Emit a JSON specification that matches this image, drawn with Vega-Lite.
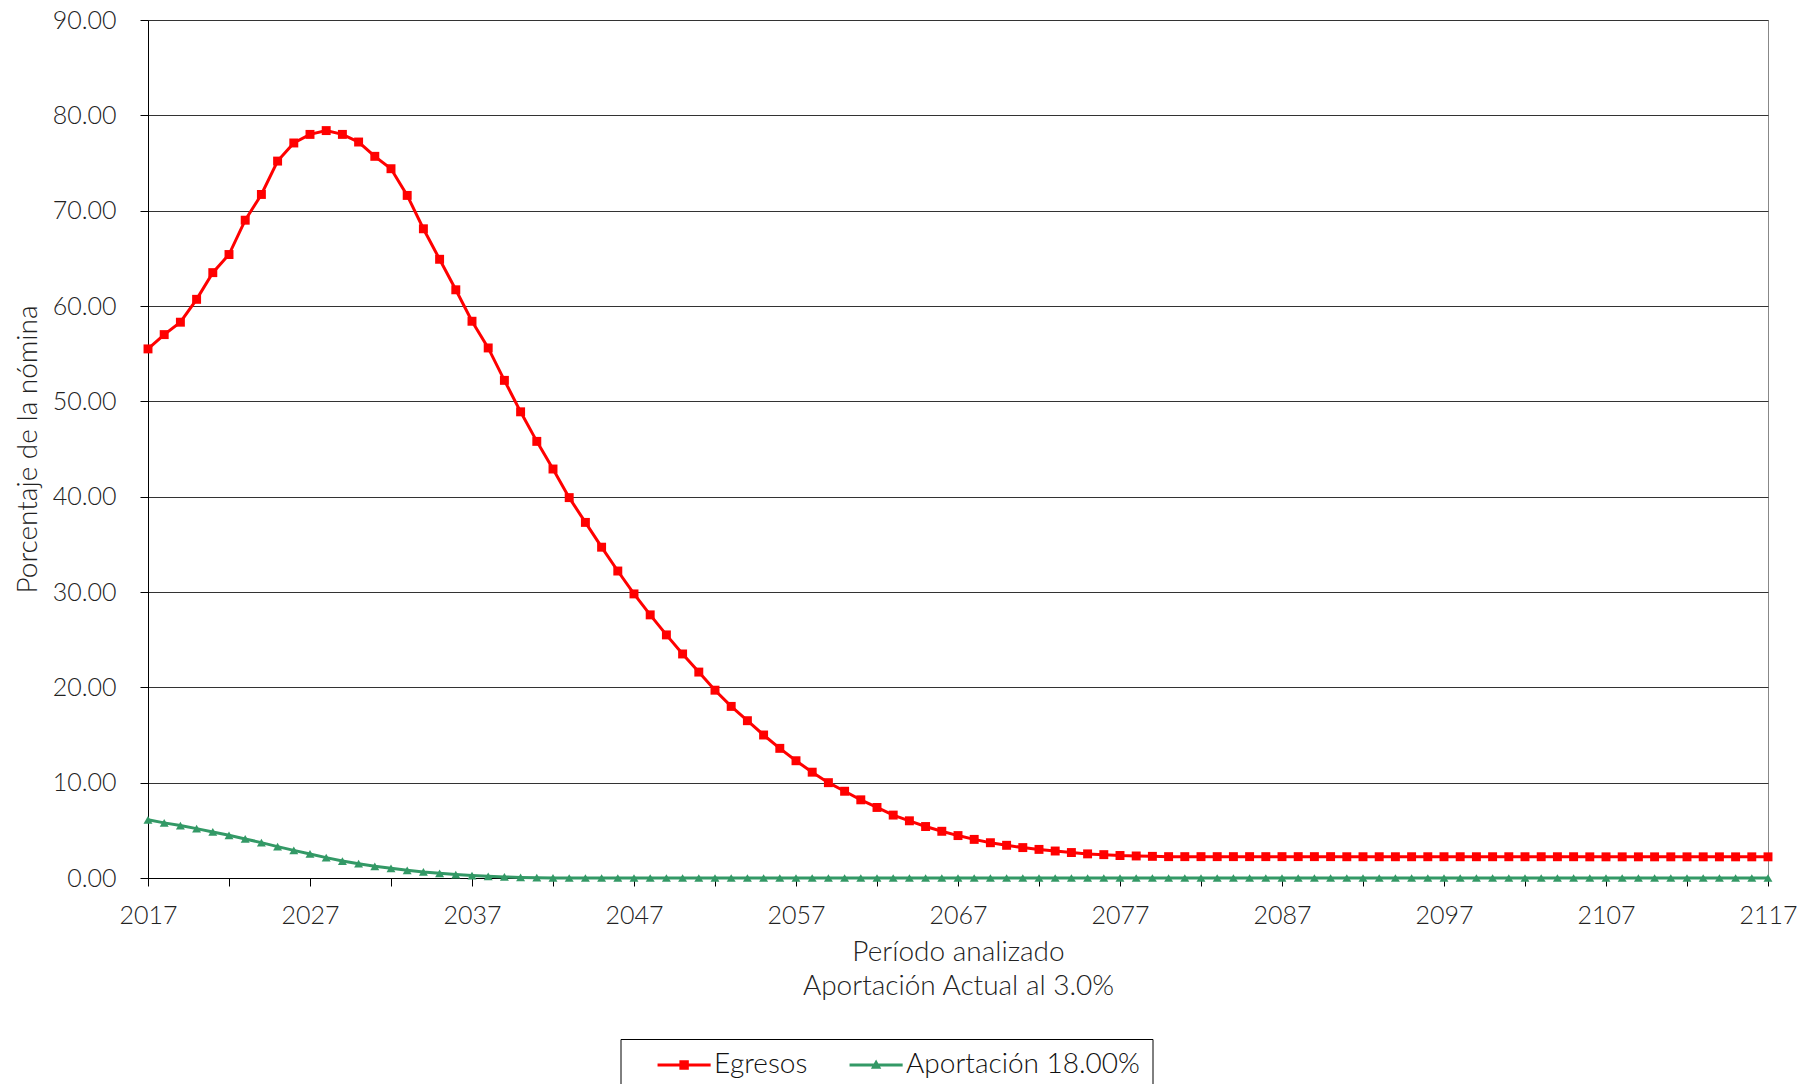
{
  "$schema": "https://vega.github.io/schema/vega-lite/v6.json",
  "width": 1620,
  "height": 858,
  "autosize": {"type": "none"},
  "padding": {"left": 148, "top": 20, "right": 52, "bottom": 206},
  "background": "white",
  "config": {
    "font": "Lato",
    "view": {"stroke": "#888888", "strokeWidth": 1},
    "axis": {
      "labelFont": "Lato", "labelFontWeight": 300, "labelFontSize": 25, "labelColor": "#222222",
      "titleFont": "Lato", "titleFontWeight": 300, "titleFontSize": 28, "titleColor": "#222222",
      "domainColor": "#000000", "tickColor": "#000000", "tickSize": 8
    }
  },
  "data": {"values": [
    {"year":2017,"series":"Egresos","value":55.5},
    {"year":2018,"series":"Egresos","value":57.0},
    {"year":2019,"series":"Egresos","value":58.3},
    {"year":2020,"series":"Egresos","value":60.7},
    {"year":2021,"series":"Egresos","value":63.5},
    {"year":2022,"series":"Egresos","value":65.4},
    {"year":2023,"series":"Egresos","value":69.0},
    {"year":2024,"series":"Egresos","value":71.7},
    {"year":2025,"series":"Egresos","value":75.2},
    {"year":2026,"series":"Egresos","value":77.1},
    {"year":2027,"series":"Egresos","value":78.0},
    {"year":2028,"series":"Egresos","value":78.4},
    {"year":2029,"series":"Egresos","value":78.0},
    {"year":2030,"series":"Egresos","value":77.2},
    {"year":2031,"series":"Egresos","value":75.7},
    {"year":2032,"series":"Egresos","value":74.4},
    {"year":2033,"series":"Egresos","value":71.6},
    {"year":2034,"series":"Egresos","value":68.1},
    {"year":2035,"series":"Egresos","value":64.9},
    {"year":2036,"series":"Egresos","value":61.7},
    {"year":2037,"series":"Egresos","value":58.4},
    {"year":2038,"series":"Egresos","value":55.6},
    {"year":2039,"series":"Egresos","value":52.2},
    {"year":2040,"series":"Egresos","value":48.9},
    {"year":2041,"series":"Egresos","value":45.8},
    {"year":2042,"series":"Egresos","value":42.9},
    {"year":2043,"series":"Egresos","value":39.9},
    {"year":2044,"series":"Egresos","value":37.3},
    {"year":2045,"series":"Egresos","value":34.7},
    {"year":2046,"series":"Egresos","value":32.2},
    {"year":2047,"series":"Egresos","value":29.8},
    {"year":2048,"series":"Egresos","value":27.6},
    {"year":2049,"series":"Egresos","value":25.5},
    {"year":2050,"series":"Egresos","value":23.5},
    {"year":2051,"series":"Egresos","value":21.6},
    {"year":2052,"series":"Egresos","value":19.7},
    {"year":2053,"series":"Egresos","value":18.0},
    {"year":2054,"series":"Egresos","value":16.5},
    {"year":2055,"series":"Egresos","value":15.0},
    {"year":2056,"series":"Egresos","value":13.6},
    {"year":2057,"series":"Egresos","value":12.3},
    {"year":2058,"series":"Egresos","value":11.1},
    {"year":2059,"series":"Egresos","value":10.0},
    {"year":2060,"series":"Egresos","value":9.1},
    {"year":2061,"series":"Egresos","value":8.2},
    {"year":2062,"series":"Egresos","value":7.4},
    {"year":2063,"series":"Egresos","value":6.6},
    {"year":2064,"series":"Egresos","value":6.0},
    {"year":2065,"series":"Egresos","value":5.4},
    {"year":2066,"series":"Egresos","value":4.9},
    {"year":2067,"series":"Egresos","value":4.45},
    {"year":2068,"series":"Egresos","value":4.05},
    {"year":2069,"series":"Egresos","value":3.7},
    {"year":2070,"series":"Egresos","value":3.43},
    {"year":2071,"series":"Egresos","value":3.19},
    {"year":2072,"series":"Egresos","value":3.0},
    {"year":2073,"series":"Egresos","value":2.83},
    {"year":2074,"series":"Egresos","value":2.67},
    {"year":2075,"series":"Egresos","value":2.53},
    {"year":2076,"series":"Egresos","value":2.45},
    {"year":2077,"series":"Egresos","value":2.36},
    {"year":2078,"series":"Egresos","value":2.31},
    {"year":2079,"series":"Egresos","value":2.27},
    {"year":2080,"series":"Egresos","value":2.24},
    {"year":2081,"series":"Egresos","value":2.24},
    {"year":2082,"series":"Egresos","value":2.24},
    {"year":2083,"series":"Egresos","value":2.24},
    {"year":2084,"series":"Egresos","value":2.24},
    {"year":2085,"series":"Egresos","value":2.24},
    {"year":2086,"series":"Egresos","value":2.24},
    {"year":2087,"series":"Egresos","value":2.24},
    {"year":2088,"series":"Egresos","value":2.24},
    {"year":2089,"series":"Egresos","value":2.24},
    {"year":2090,"series":"Egresos","value":2.24},
    {"year":2091,"series":"Egresos","value":2.23},
    {"year":2092,"series":"Egresos","value":2.23},
    {"year":2093,"series":"Egresos","value":2.23},
    {"year":2094,"series":"Egresos","value":2.23},
    {"year":2095,"series":"Egresos","value":2.23},
    {"year":2096,"series":"Egresos","value":2.23},
    {"year":2097,"series":"Egresos","value":2.23},
    {"year":2098,"series":"Egresos","value":2.23},
    {"year":2099,"series":"Egresos","value":2.23},
    {"year":2100,"series":"Egresos","value":2.23},
    {"year":2101,"series":"Egresos","value":2.23},
    {"year":2102,"series":"Egresos","value":2.23},
    {"year":2103,"series":"Egresos","value":2.23},
    {"year":2104,"series":"Egresos","value":2.23},
    {"year":2105,"series":"Egresos","value":2.23},
    {"year":2106,"series":"Egresos","value":2.22},
    {"year":2107,"series":"Egresos","value":2.22},
    {"year":2108,"series":"Egresos","value":2.22},
    {"year":2109,"series":"Egresos","value":2.22},
    {"year":2110,"series":"Egresos","value":2.22},
    {"year":2111,"series":"Egresos","value":2.22},
    {"year":2112,"series":"Egresos","value":2.22},
    {"year":2113,"series":"Egresos","value":2.22},
    {"year":2114,"series":"Egresos","value":2.22},
    {"year":2115,"series":"Egresos","value":2.22},
    {"year":2116,"series":"Egresos","value":2.22},
    {"year":2117,"series":"Egresos","value":2.22},
    {"year":2017,"series":"Aportación 18.00%","value":6.1},
    {"year":2018,"series":"Aportación 18.00%","value":5.78},
    {"year":2019,"series":"Aportación 18.00%","value":5.5},
    {"year":2020,"series":"Aportación 18.00%","value":5.18},
    {"year":2021,"series":"Aportación 18.00%","value":4.83},
    {"year":2022,"series":"Aportación 18.00%","value":4.48},
    {"year":2023,"series":"Aportación 18.00%","value":4.1},
    {"year":2024,"series":"Aportación 18.00%","value":3.71},
    {"year":2025,"series":"Aportación 18.00%","value":3.29},
    {"year":2026,"series":"Aportación 18.00%","value":2.9},
    {"year":2027,"series":"Aportación 18.00%","value":2.52},
    {"year":2028,"series":"Aportación 18.00%","value":2.14},
    {"year":2029,"series":"Aportación 18.00%","value":1.78},
    {"year":2030,"series":"Aportación 18.00%","value":1.5},
    {"year":2031,"series":"Aportación 18.00%","value":1.23},
    {"year":2032,"series":"Aportación 18.00%","value":1.02},
    {"year":2033,"series":"Aportación 18.00%","value":0.81},
    {"year":2034,"series":"Aportación 18.00%","value":0.63},
    {"year":2035,"series":"Aportación 18.00%","value":0.49},
    {"year":2036,"series":"Aportación 18.00%","value":0.36},
    {"year":2037,"series":"Aportación 18.00%","value":0.26},
    {"year":2038,"series":"Aportación 18.00%","value":0.18},
    {"year":2039,"series":"Aportación 18.00%","value":0.11},
    {"year":2040,"series":"Aportación 18.00%","value":0.06},
    {"year":2041,"series":"Aportación 18.00%","value":0.03},
    {"year":2042,"series":"Aportación 18.00%","value":0.01},
    {"year":2043,"series":"Aportación 18.00%","value":0},
    {"year":2044,"series":"Aportación 18.00%","value":0},
    {"year":2045,"series":"Aportación 18.00%","value":0},
    {"year":2046,"series":"Aportación 18.00%","value":0},
    {"year":2047,"series":"Aportación 18.00%","value":0},
    {"year":2048,"series":"Aportación 18.00%","value":0},
    {"year":2049,"series":"Aportación 18.00%","value":0},
    {"year":2050,"series":"Aportación 18.00%","value":0},
    {"year":2051,"series":"Aportación 18.00%","value":0},
    {"year":2052,"series":"Aportación 18.00%","value":0},
    {"year":2053,"series":"Aportación 18.00%","value":0},
    {"year":2054,"series":"Aportación 18.00%","value":0},
    {"year":2055,"series":"Aportación 18.00%","value":0},
    {"year":2056,"series":"Aportación 18.00%","value":0},
    {"year":2057,"series":"Aportación 18.00%","value":0},
    {"year":2058,"series":"Aportación 18.00%","value":0},
    {"year":2059,"series":"Aportación 18.00%","value":0},
    {"year":2060,"series":"Aportación 18.00%","value":0},
    {"year":2061,"series":"Aportación 18.00%","value":0},
    {"year":2062,"series":"Aportación 18.00%","value":0},
    {"year":2063,"series":"Aportación 18.00%","value":0},
    {"year":2064,"series":"Aportación 18.00%","value":0},
    {"year":2065,"series":"Aportación 18.00%","value":0},
    {"year":2066,"series":"Aportación 18.00%","value":0},
    {"year":2067,"series":"Aportación 18.00%","value":0},
    {"year":2068,"series":"Aportación 18.00%","value":0},
    {"year":2069,"series":"Aportación 18.00%","value":0},
    {"year":2070,"series":"Aportación 18.00%","value":0},
    {"year":2071,"series":"Aportación 18.00%","value":0},
    {"year":2072,"series":"Aportación 18.00%","value":0},
    {"year":2073,"series":"Aportación 18.00%","value":0},
    {"year":2074,"series":"Aportación 18.00%","value":0},
    {"year":2075,"series":"Aportación 18.00%","value":0},
    {"year":2076,"series":"Aportación 18.00%","value":0},
    {"year":2077,"series":"Aportación 18.00%","value":0},
    {"year":2078,"series":"Aportación 18.00%","value":0},
    {"year":2079,"series":"Aportación 18.00%","value":0},
    {"year":2080,"series":"Aportación 18.00%","value":0},
    {"year":2081,"series":"Aportación 18.00%","value":0},
    {"year":2082,"series":"Aportación 18.00%","value":0},
    {"year":2083,"series":"Aportación 18.00%","value":0},
    {"year":2084,"series":"Aportación 18.00%","value":0},
    {"year":2085,"series":"Aportación 18.00%","value":0},
    {"year":2086,"series":"Aportación 18.00%","value":0},
    {"year":2087,"series":"Aportación 18.00%","value":0},
    {"year":2088,"series":"Aportación 18.00%","value":0},
    {"year":2089,"series":"Aportación 18.00%","value":0},
    {"year":2090,"series":"Aportación 18.00%","value":0},
    {"year":2091,"series":"Aportación 18.00%","value":0},
    {"year":2092,"series":"Aportación 18.00%","value":0},
    {"year":2093,"series":"Aportación 18.00%","value":0},
    {"year":2094,"series":"Aportación 18.00%","value":0},
    {"year":2095,"series":"Aportación 18.00%","value":0},
    {"year":2096,"series":"Aportación 18.00%","value":0},
    {"year":2097,"series":"Aportación 18.00%","value":0},
    {"year":2098,"series":"Aportación 18.00%","value":0},
    {"year":2099,"series":"Aportación 18.00%","value":0},
    {"year":2100,"series":"Aportación 18.00%","value":0},
    {"year":2101,"series":"Aportación 18.00%","value":0},
    {"year":2102,"series":"Aportación 18.00%","value":0},
    {"year":2103,"series":"Aportación 18.00%","value":0},
    {"year":2104,"series":"Aportación 18.00%","value":0},
    {"year":2105,"series":"Aportación 18.00%","value":0},
    {"year":2106,"series":"Aportación 18.00%","value":0},
    {"year":2107,"series":"Aportación 18.00%","value":0},
    {"year":2108,"series":"Aportación 18.00%","value":0},
    {"year":2109,"series":"Aportación 18.00%","value":0},
    {"year":2110,"series":"Aportación 18.00%","value":0},
    {"year":2111,"series":"Aportación 18.00%","value":0},
    {"year":2112,"series":"Aportación 18.00%","value":0},
    {"year":2113,"series":"Aportación 18.00%","value":0},
    {"year":2114,"series":"Aportación 18.00%","value":0},
    {"year":2115,"series":"Aportación 18.00%","value":0},
    {"year":2116,"series":"Aportación 18.00%","value":0},
    {"year":2117,"series":"Aportación 18.00%","value":0}
  ]},
  "encoding": {
    "x": {
      "field": "year", "type": "quantitative",
      "scale": {"domain": [2017, 2117], "nice": false, "zero": false},
      "axis": {
        "values": [2017,2022,2027,2032,2037,2042,2047,2052,2057,2062,2067,2072,2077,2082,2087,2092,2097,2102,2107,2112,2117],
        "format": "d",
        "labelExpr": "(datum.value - 2017) % 10 == 0 ? datum.label : ''",
        "labelOverlap": false,
        "labelFlush": false,
        "grid": false,
        "labelPadding": 17,
        "title": ["Período analizado", "Aportación Actual al 3.0%"],
        "titleLineHeight": 34,
        "titlePadding": 10
      }
    },
    "y": {
      "field": "value", "type": "quantitative",
      "scale": {"domain": [0, 90], "nice": false},
      "axis": {
        "values": [0,10,20,30,40,50,60,70,80,90],
        "format": ".2f",
        "grid": true,
        "gridColor": "#333333",
        "gridWidth": 1,
        "labelPadding": 24,
        "title": "Porcentaje de la nómina",
        "titlePadding": 10
      }
    },
    "color": {
      "field": "series", "type": "nominal",
      "scale": {"domain": ["Egresos", "Aportación 18.00%"], "range": ["#FF0000", "#339966"]},
      "legend": {
        "orient": "none",
        "legendX": 472.5,
        "legendY": 1019,
        "direction": "horizontal",
        "title": null,
        "strokeColor": "#000000",
        "fillColor": "#ffffff",
        "padding": 12,
        "symbolSize": 81,
        "symbolOffset": 37.6,
        "labelOffset": 16,
        "labelFont": "Lato",
        "labelFontWeight": 300,
        "labelFontSize": 28,
        "labelColor": "#111111",
        "labelLimit": 400,
        "columnPadding": 17,
        "encode": {
          "symbols": {
            "update": {
              "shape": {"signal": "datum.value === 'Egresos' ? 'M-5.9,-0.35H5.9V0.35H-5.9Z M-1.05,-1.05H1.05V1.05H-1.05Z' : 'M-5.9,-0.35H5.9V0.35H-5.9Z M0,-1.2L1.15,0.85H-1.15Z'"},
              "strokeWidth": {"value": 0},
              "opacity": {"value": 1}
            }
          }
        }
      }
    }
  },
  "layer": [
    {"mark": {"type": "line", "strokeWidth": 3}},
    {
      "transform": [{"filter": "datum.series === 'Egresos'"}],
      "mark": {"type": "point", "shape": "square", "filled": true, "size": 80, "opacity": 1}
    },
    {
      "transform": [{"filter": "datum.series !== 'Egresos'"}],
      "mark": {"type": "point", "shape": "triangle-up", "filled": true, "size": 80, "opacity": 1}
    }
  ]
}
